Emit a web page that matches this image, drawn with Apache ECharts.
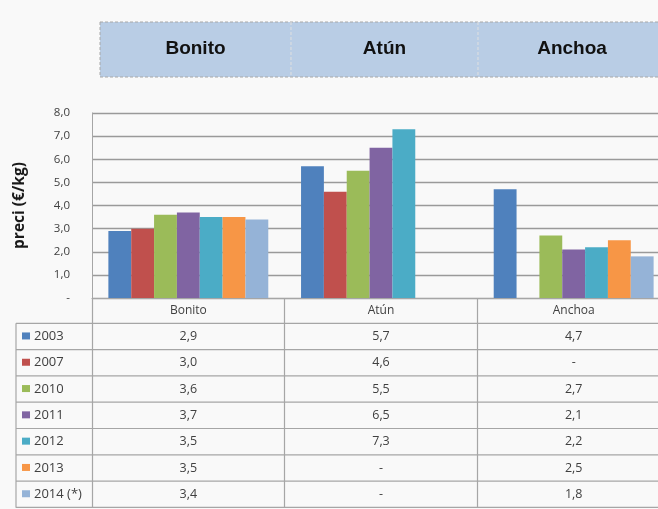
<!DOCTYPE html>
<html>
<head>
<meta charset="utf-8">
<script src="https://cdn.jsdelivr.net/npm/echarts@6/dist/echarts.min.js"></script>
<style>
html, body { margin: 0; padding: 0; background: #f9f9f9; overflow: hidden; width: 658px; height: 509px; }
/* the canvas is a little wider than the page so the third column runs off the right edge */
#chart { width: 670px; height: 509px; }
</style>
</head>
<body>
<div id="chart"></div>
<script>
// Species (categories) and price per year, €/kg (null = no data)
const species = ['Bonito', 'Atún', 'Anchoa'];
const yearLabels = ['2003', '2007', '2010', '2011', '2012', '2013', '2014 (*)'];
const p2003 = [2.9, 5.7, 4.7];
const p2007 = [3.0, 4.6, null];
const p2010 = [3.6, 5.5, 2.7];
const p2011 = [3.7, 6.5, 2.1];
const p2012 = [3.5, 7.3, 2.2];
const p2013 = [3.5, null, 2.5];
const p2014 = [3.4, null, 1.8];
const yTicks = { min: 0, max: 8, interval: 1 };

const seriesValues = [p2003, p2007, p2010, p2011, p2012, p2013, p2014];
const palette = ['#4f81bd', '#c0504d', '#9bbb59', '#8064a2', '#4bacc6', '#f79646', '#95b3d7'];

const fmt = v => (v == null || v === 0) ? '-' : v.toFixed(1).replace('.', ',');

const GRID_LEFT = 92, GRID_TOP = 113, GRID_H = 185, GRID_RIGHT = 0;
const TABLE_LEFT = 16, ROW_TOP = 323.3, ROW_H = 26.3, TABLE_BOTTOM = 507.7;
const LINE = '#a6a6a6';
const TXT = '#404040';
const TFONT = 'Open Sans';

const chart = echarts.init(document.getElementById('chart'), null, { renderer: 'canvas' });

chart.setOption({
  backgroundColor: '#f9f9f9',
  animation: false,
  grid: { left: GRID_LEFT, top: GRID_TOP, right: GRID_RIGHT, height: GRID_H, containLabel: false },
  xAxis: {
    type: 'category',
    data: species,
    axisLine: { show: true, lineStyle: { color: LINE, width: 1 } },
    axisTick: { show: true, length: TABLE_BOTTOM - (GRID_TOP + GRID_H), lineStyle: { color: LINE, width: 1.2 } },
    axisLabel: { margin: 7, fontFamily: TFONT, fontSize: 12, color: TXT }
  },
  yAxis: {
    type: 'value',
    min: yTicks.min, max: yTicks.max, interval: yTicks.interval,
    name: 'preci (€/kg)',
    nameLocation: 'middle',
    nameGap: 64,
    nameTextStyle: { fontFamily: TFONT, fontWeight: 'bold', fontSize: 15.5, color: '#1a1a1a' },
    axisLine: { show: true, lineStyle: { color: LINE } },
    axisTick: { show: false },
    axisLabel: { margin: 22, fontFamily: TFONT, fontSize: 11.5, color: TXT, formatter: v => fmt(v) },
    splitLine: { lineStyle: { color: '#9a9a9a', width: 1.3 } }
  },
  series: seriesValues.map((vals, i) => ({
    name: yearLabels[i],
    type: 'bar',
    data: vals,
    barGap: '0%',
    barCategoryGap: '17%',
    itemStyle: { color: palette[i] }
  }))
});

// Header band and data table beneath the plot
const graphics = [];
const bandTop = 22, bandBottom = 77, bandLeft = 100;
graphics.push({
  type: 'rect', silent: true,
  shape: { x: bandLeft, y: bandTop, width: 670 - bandLeft + 4, height: bandBottom - bandTop },
  style: { fill: '#b9cde5', stroke: '#a8a8a8', lineWidth: 1, lineDash: [3, 2] }
});
const bandDividers = [291, 478];
bandDividers.forEach(x => graphics.push({
  type: 'line', silent: true,
  shape: { x1: x, y1: bandTop, x2: x, y2: bandBottom },
  style: { stroke: '#e0e0e0', lineWidth: 1, lineDash: [3, 2] }
}));
const bandCols = [bandLeft, ...bandDividers, 666];
species.forEach((s, i) => graphics.push({
  type: 'text', silent: true,
  style: {
    text: s, x: (bandCols[i] + bandCols[i + 1]) / 2, y: (bandTop + bandBottom) / 2 - 1,
    align: 'center', verticalAlign: 'middle',
    font: 'bold 19px "Liberation Sans"', fill: '#111'
  }
}));

// table row lines
for (let r = 0; r <= yearLabels.length; r++) {
  const y = ROW_TOP + r * ROW_H;
  graphics.push({
    type: 'line', silent: true,
    shape: { x1: TABLE_LEFT, y1: y, x2: 670, y2: y },
    style: { stroke: LINE, lineWidth: 1.2 }
  });
}
graphics.push({
  type: 'line', silent: true,
  shape: { x1: TABLE_LEFT, y1: ROW_TOP, x2: TABLE_LEFT, y2: TABLE_BOTTOM },
  style: { stroke: LINE, lineWidth: 1.2 }
});

// legend keys + year names, and values per category
yearLabels.forEach((yl, r) => {
  const cy = ROW_TOP + r * ROW_H + ROW_H / 2;
  graphics.push({
    type: 'rect', silent: true,
    shape: { x: 22, y: cy - 4, width: 8, height: 7 },
    style: { fill: palette[r] }
  });
  graphics.push({
    type: 'text', silent: true,
    style: { text: yl, x: 34, y: cy, align: 'left', verticalAlign: 'middle',
      font: '13px "Open Sans"', fill: TXT }
  });
  species.forEach((s, c) => {
    const cx = chart.convertToPixel({ xAxisIndex: 0 }, s);
    graphics.push({
      type: 'text', silent: true,
      style: { text: fmt(seriesValues[r][c]), x: cx, y: cy, align: 'center', verticalAlign: 'middle',
        font: '12.5px "Open Sans"', fill: TXT }
    });
  });
});

chart.setOption({ graphic: { elements: graphics } });
</script>
</body>
</html>
